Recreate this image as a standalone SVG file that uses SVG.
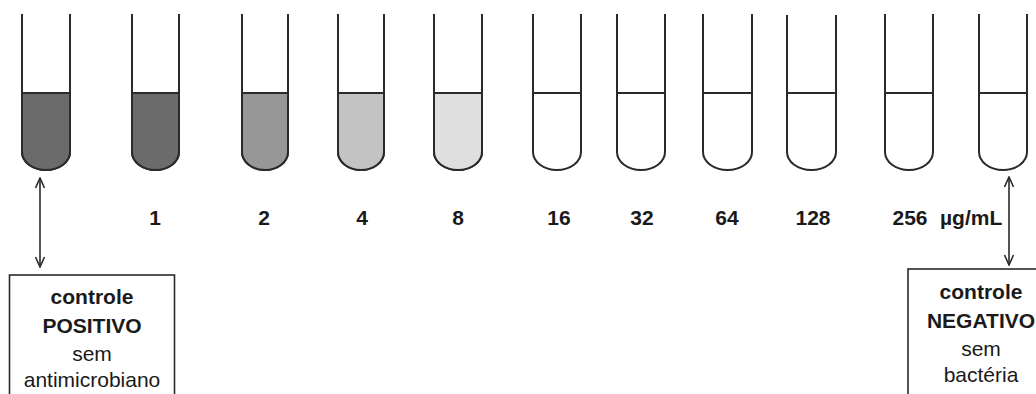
<svg xmlns="http://www.w3.org/2000/svg" width="1036" height="394" viewBox="0 0 1036 394">
<style>
.tube{fill:#ffffff;stroke:#2a2a2a;stroke-width:2}
.liq{stroke:none}
.lvl{stroke:#2a2a2a;stroke-width:2}
.num{font-family:"Liberation Sans",Arial,sans-serif;font-weight:bold;font-size:21px;fill:#1a1a1a;text-anchor:middle}
.unit{text-anchor:start}
.box{fill:#ffffff;stroke:#2a2a2a;stroke-width:1.6}
.bt{font-family:"Liberation Sans",Arial,sans-serif;font-size:21px;fill:#1a1a1a;text-anchor:middle}
.b{font-weight:bold}
.con{fill:none;stroke:#2a2a2a;stroke-width:1.6}
</style>
<defs>
<marker id="ah" viewBox="0 0 12 12" refX="11" refY="6" markerWidth="12" markerHeight="12" markerUnits="userSpaceOnUse" orient="auto-start-reverse">
<path d="M1 1.5 L11 6 L1 10.5" fill="none" stroke="#2a2a2a" stroke-width="1.6"/>
</marker>
</defs>
<rect width="1036" height="394" fill="#ffffff"/>

<g id="tube-pos">
<path class="tube" d="M22 14 V152 A24 18 0 0 0 70 152 V14"/>
<path class="liq" fill="#6b6b6b" d="M22 93 H70 V152 A24 18 0 0 1 22 152 Z"/>
<path class="tube" style="fill:none" d="M22 14 V152 A24 18 0 0 0 70 152 V14"/>
<line class="lvl" x1="22" y1="93" x2="70" y2="93"/>
</g>
<g id="tube-1">
<path class="tube" d="M132 14 V152 A23.5 18 0 0 0 179 152 V14"/>
<path class="liq" fill="#6b6b6b" d="M132 93 H179 V152 A23.5 18 0 0 1 132 152 Z"/>
<path class="tube" style="fill:none" d="M132 14 V152 A23.5 18 0 0 0 179 152 V14"/>
<line class="lvl" x1="132" y1="93" x2="179" y2="93"/>
<text class="num" x="155" y="225">1</text>
</g>
<g id="tube-2">
<path class="tube" d="M242 14 V152 A23 18 0 0 0 288 152 V14"/>
<path class="liq" fill="#979797" d="M242 93 H288 V152 A23 18 0 0 1 242 152 Z"/>
<path class="tube" style="fill:none" d="M242 14 V152 A23 18 0 0 0 288 152 V14"/>
<line class="lvl" x1="242" y1="93" x2="288" y2="93"/>
<text class="num" x="264" y="225">2</text>
</g>
<g id="tube-4">
<path class="tube" d="M338 14 V152 A23 18 0 0 0 384 152 V14"/>
<path class="liq" fill="#c3c3c3" d="M338 93 H384 V152 A23 18 0 0 1 338 152 Z"/>
<path class="tube" style="fill:none" d="M338 14 V152 A23 18 0 0 0 384 152 V14"/>
<line class="lvl" x1="338" y1="93" x2="384" y2="93"/>
<text class="num" x="362" y="225">4</text>
</g>
<g id="tube-8">
<path class="tube" d="M434 14 V152 A24 18 0 0 0 482 152 V14"/>
<path class="liq" fill="#dfdfdf" d="M434 93 H482 V152 A24 18 0 0 1 434 152 Z"/>
<path class="tube" style="fill:none" d="M434 14 V152 A24 18 0 0 0 482 152 V14"/>
<line class="lvl" x1="434" y1="93" x2="482" y2="93"/>
<text class="num" x="458" y="225">8</text>
</g>
<g id="tube-16">
<path class="tube" d="M533 14 V152 A24 18 0 0 0 581 152 V14"/>
<line class="lvl" x1="533" y1="93" x2="581" y2="93"/>
<text class="num" x="559" y="225">16</text>
</g>
<g id="tube-32">
<path class="tube" d="M617 14 V152 A24 18 0 0 0 665 152 V14"/>
<line class="lvl" x1="617" y1="93" x2="665" y2="93"/>
<text class="num" x="642" y="225">32</text>
</g>
<g id="tube-64">
<path class="tube" d="M703 14 V152 A24.5 18 0 0 0 752 152 V14"/>
<line class="lvl" x1="703" y1="93" x2="752" y2="93"/>
<text class="num" x="727" y="225">64</text>
</g>
<g id="tube-128">
<path class="tube" d="M787 15 V152 A24.5 18 0 0 0 836 152 V15"/>
<line class="lvl" x1="787" y1="93" x2="836" y2="93"/>
<text class="num" x="813" y="225">128</text>
</g>
<g id="tube-256">
<path class="tube" d="M885 14 V152 A24 18 0 0 0 933 152 V14"/>
<line class="lvl" x1="885" y1="93" x2="933" y2="93"/>
<text class="num" x="910" y="225">256<tspan class="unit" x="940">µg/mL</tspan></text>
</g>
<g id="tube-neg">
<path class="tube" d="M979 14 V152 A24 18 0 0 0 1027 152 V14"/>
<line class="lvl" x1="979" y1="93" x2="1027" y2="93"/>
</g>

<g id="box-positivo">
<rect class="box" x="9.5" y="275" width="165" height="140"/>
<text class="bt b" x="92" y="304">controle</text>
<text class="bt b" x="92" y="333">POSITIVO</text>
<text class="bt" x="92" y="361">sem</text>
<text class="bt" x="92" y="387">antimicrobiano</text>
</g>
<g id="box-negativo">
<rect class="box" x="908" y="269" width="165" height="140"/>
<text class="bt b" x="981" y="299">controle</text>
<text class="bt b" x="981" y="328">NEGATIVO</text>
<text class="bt" x="981" y="356">sem</text>
<text class="bt" x="981" y="382">bactéria</text>
</g>

<g id="connectors">
<line class="con" x1="40" y1="178" x2="40" y2="267" marker-start="url(#ah)" marker-end="url(#ah)"/>
<line class="con" x1="1009" y1="177" x2="1009" y2="265" marker-start="url(#ah)" marker-end="url(#ah)"/>
</g>
</svg>
